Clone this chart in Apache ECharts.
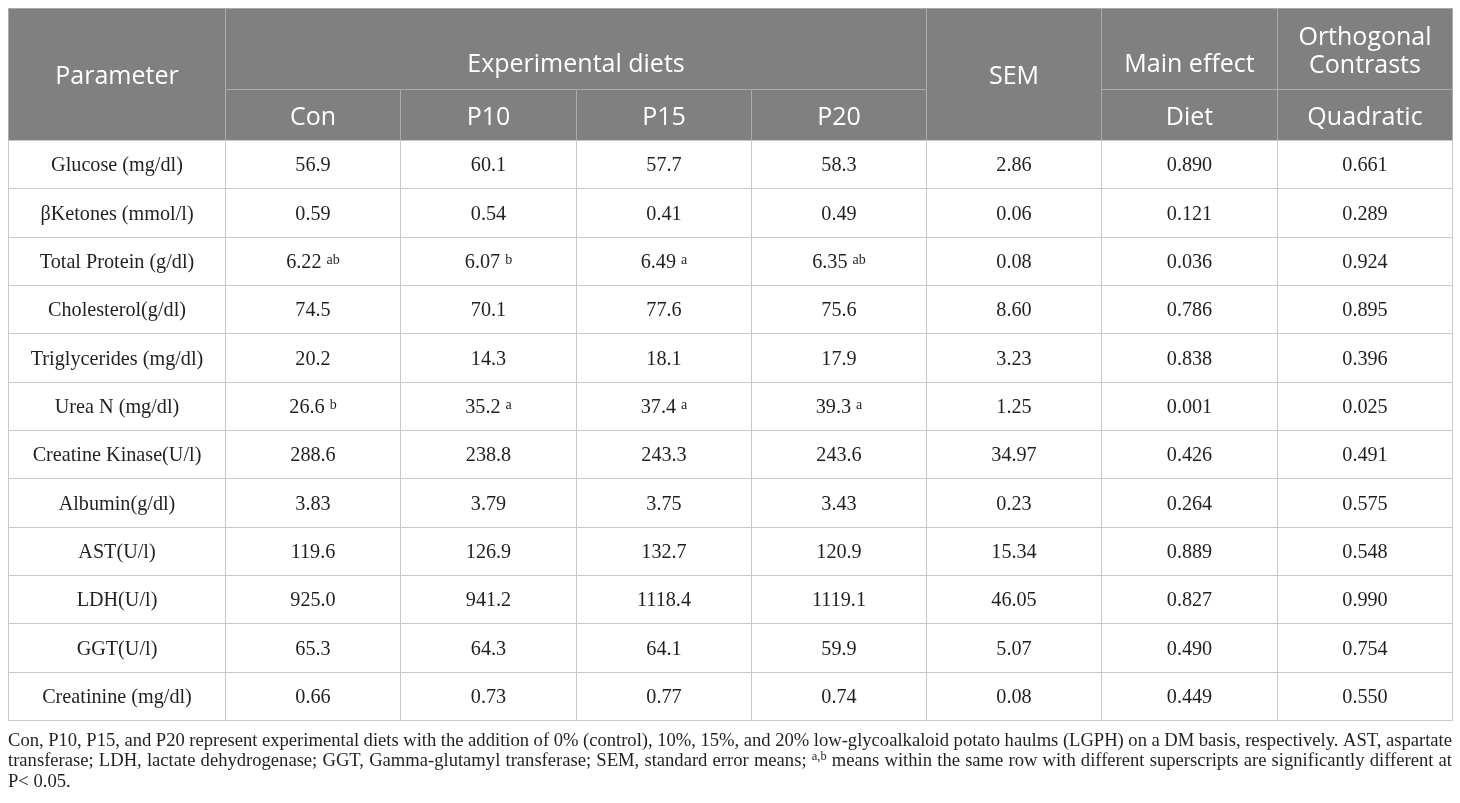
<!DOCTYPE html>
<html>
<head>
<meta charset="utf-8">
<script src="https://cdn.jsdelivr.net/npm/echarts@6/dist/echarts.min.js"></script>
<style>
html, body { margin: 0; padding: 0; background: #fff; }
#main { width: 1460px; height: 803px; }
</style>
</head>
<body>
<div id="main"></div>
<script>
// table content
const parameters = ['Glucose (mg/dl)', 'βKetones (mmol/l)', 'Total Protein (g/dl)', 'Cholesterol(g/dl)',
  'Triglycerides (mg/dl)', 'Urea N (mg/dl)', 'Creatine Kinase(U/l)', 'Albumin(g/dl)',
  'AST(U/l)', 'LDH(U/l)', 'GGT(U/l)', 'Creatinine (mg/dl)'];
const dietNames = ['Con', 'P10', 'P15', 'P20'];

const con = ['56.9', '0.59', '6.22', '74.5', '20.2', '26.6', '288.6', '3.83', '119.6', '925.0', '65.3', '0.66'];
const p10 = ['60.1', '0.54', '6.07', '70.1', '14.3', '35.2', '238.8', '3.79', '126.9', '941.2', '64.3', '0.73'];
const p15 = ['57.7', '0.41', '6.49', '77.6', '18.1', '37.4', '243.3', '3.75', '132.7', '1118.4', '64.1', '0.77'];
const p20 = ['58.3', '0.49', '6.35', '75.6', '17.9', '39.3', '243.6', '3.43', '120.9', '1119.1', '59.9', '0.74'];
// superscripts (letters) per row, '' = none
const conSup = ['', '', 'ab', '', '', 'b', '', '', '', '', '', ''];
const p10Sup = ['', '', 'b', '', '', 'a', '', '', '', '', '', ''];
const p15Sup = ['', '', 'a', '', '', 'a', '', '', '', '', '', ''];
const p20Sup = ['', '', 'ab', '', '', 'a', '', '', '', '', '', ''];
const sem = ['2.86', '0.06', '0.08', '8.60', '3.23', '1.25', '34.97', '0.23', '15.34', '46.05', '5.07', '0.08'];
const dietP = ['0.890', '0.121', '0.036', '0.786', '0.838', '0.001', '0.426', '0.264', '0.889', '0.827', '0.490', '0.449'];
const quadP = ['0.661', '0.289', '0.924', '0.895', '0.396', '0.025', '0.491', '0.575', '0.548', '0.990', '0.754', '0.550'];

const footLines = [
  'Con, P10, P15, and P20 represent experimental diets with the addition of 0% (control), 10%, 15%, and 20% low-glycoalkaloid potato haulms (LGPH) on a DM basis, respectively. AST, aspartate',
  'transferase; LDH, lactate dehydrogenase; GGT, Gamma-glutamyl transferase; SEM, standard error means; ^a,b means within the same row with different superscripts are significantly different at',
  'P< 0.05.'
];

// layout (table units = px inside the grid)
const TABLE_W = 1444, TABLE_H = 712;
const colEdges = [0];
colEdges.push(217);
for (let k = 1; k <= 7; k++) colEdges.push(217 + k * (TABLE_W - 217) / 7);
const headSplit = 81, headBottom = 132;
const rowH = (TABLE_H - headBottom) / parameters.length;

const HEAD_BG = '#808080', HEAD_LINE = '#ababab', BODY_LINE = '#c9c9c9';
const SANS = '"Open Sans", "Noto Sans", sans-serif';
const SERIF = '"Liberation Serif", "DejaVu Serif", serif';

let cells = [];
function head(c0, c1, y0, y1, text, pos) {
  cells.push({ c0: c0, c1: c1, y0: y0, y1: y1, text: text, header: true, pos: pos || 'center' });
}
head(0, 1, 0, headBottom, 'Parameter');
head(1, 5, 0, headSplit, 'Experimental diets', 'bottom');
head(5, 6, 0, headBottom, 'SEM');
head(6, 7, 0, headSplit, 'Main effect', 'bottom');
head(7, 8, 0, headSplit, 'Orthogonal\nContrasts');
dietNames.forEach(function (d, i) { head(i + 1, i + 2, headSplit, headBottom, d); });
head(6, 7, headSplit, headBottom, 'Diet');
head(7, 8, headSplit, headBottom, 'Quadratic');

const bodyCols = [[con, conSup], [p10, p10Sup], [p15, p15Sup], [p20, p20Sup], [sem, null], [dietP, null], [quadP, null]];
for (let r = 0; r < parameters.length; r++) {
  let y0 = headBottom + r * rowH, y1 = headBottom + (r + 1) * rowH;
  cells.push({ c0: 0, c1: 1, y0: y0, y1: y1, text: parameters[r] });
  bodyCols.forEach(function (col, i) {
    let t = col[0][r];
    if (col[1] && col[1][r]) t = t + ' {s|' + col[1][r] + '}';
    cells.push({ c0: i + 1, c1: i + 2, y0: y0, y1: y1, text: t });
  });
}

function renderCell(params, api) {
  const cell = cells[params.dataIndex];
  const a = api.coord([api.value(0), api.value(1)]);
  const b = api.coord([api.value(2), api.value(3)]);
  const x0 = Math.round(a[0]) + 0.5, y0 = Math.round(a[1]) + 0.5;
  const x1 = Math.round(b[0]) + 0.5, y1 = Math.round(b[1]) + 0.5;
  let ty = (y0 + y1) / 2;
  if (cell.pos === 'bottom') ty = y1 - 27;
  const textStyle = cell.header ? {
    text: cell.text, x: (x0 + x1) / 2, y: ty + 2.5, align: 'center', verticalAlign: 'middle',
    fill: '#ffffff', fontFamily: SANS, fontSize: 25, lineHeight: 28
  } : {
    text: cell.text, x: (x0 + x1) / 2, y: ty + 1.5, align: 'center', verticalAlign: 'middle',
    fill: '#231f20', fontFamily: SERIF, fontSize: 20.2,
    rich: { s: { fontFamily: SERIF, fontSize: 14, verticalAlign: 'top', padding: [0, 0, 3, 0], fill: '#231f20' } }
  };
  return {
    type: 'group',
    children: [
      { type: 'rect', shape: { x: x0, y: y0, width: x1 - x0, height: y1 - y0 },
        style: { fill: cell.header ? HEAD_BG : '#ffffff', stroke: cell.header ? HEAD_LINE : BODY_LINE, lineWidth: 1 } },
      { type: 'text', style: textStyle }
    ]
  };
}

// footnote, justified like the source
const FOOT_SIZE = 18.6, FOOT_SUP = 12.5;
const ctx = document.createElement('canvas').getContext('2d');
function measure(t, size) {
  ctx.font = size + 'px "Liberation Serif"';
  return ctx.measureText(t).width;
}
let footEls = [];
footLines.forEach(function (line, li) {
  const words = line.split(' ');
  const widths = words.map(function (w) {
    return w[0] === '^' ? measure(w.slice(1), FOOT_SUP) : measure(w, FOOT_SIZE);
  });
  const sum = widths.reduce(function (s, v) { return s + v; }, 0);
  const last = li === footLines.length - 1;
  const gap = last ? measure(' ', FOOT_SIZE) : (TABLE_W - sum) / (words.length - 1);
  let x = 8;
  const y = 741 + li * 20.5;
  words.forEach(function (w, wi) {
    const sup = w[0] === '^';
    footEls.push({
      type: 'text', x: x, y: sup ? y - 5 : y, silent: true,
      style: {
        text: sup ? w.slice(1) : w, fontFamily: SERIF, fontSize: sup ? FOOT_SUP : FOOT_SIZE,
        fill: '#231f20', verticalAlign: 'middle', align: 'left'
      }
    });
    x += widths[wi] + gap;
  });
});

const chart = echarts.init(document.getElementById('main'));
chart.setOption({
  animation: false,
  grid: { left: 8, top: 8, width: TABLE_W, height: TABLE_H },
  xAxis: { type: 'value', min: 0, max: TABLE_W, show: false },
  yAxis: { type: 'value', min: 0, max: TABLE_H, inverse: true, show: false },
  graphic: footEls,
  series: [{
    type: 'custom',
    renderItem: renderCell,
    silent: true,
    data: cells.map(function (c) { return [colEdges[c.c0], c.y0, colEdges[c.c1], c.y1]; })
  }]
});
</script>
</body>
</html>
